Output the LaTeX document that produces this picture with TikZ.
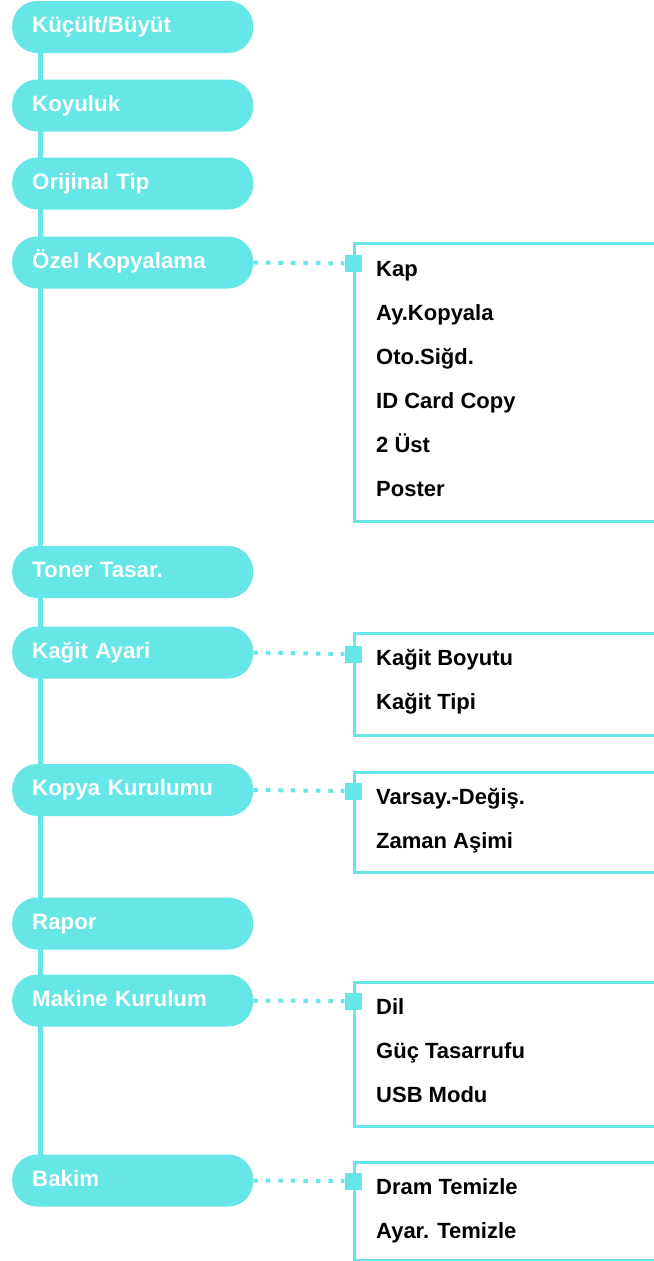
\documentclass[tikz,border=0pt]{standalone}
\usepackage{fontspec}
\setmainfont{Liberation Sans}
\newfontfamily\itemfont{Liberation Sans}
\definecolor{cy}{RGB}{102,230,230}
\begin{document}
\begin{tikzpicture}[x=1bp,y=-1bp,
  pill/.style={fill=cy, rounded corners=25bp, minimum width=241bp, minimum height=52bp,
    text width=201bp, align=left, inner xsep=20bp, inner ysep=0pt,
    text height=11bp, text depth=0bp, text=white,
    font=\bfseries\fontsize{22.3bp}{26bp}\selectfont, anchor=west},
  spine/.style={draw=cy, line width=5bp},
  marker/.style={fill=cy, minimum size=17bp, inner sep=0pt},
  dotline/.style={draw=cy, line width=4bp, dash pattern=on 4.5bp off 8bp},
  subbox/.style={draw=cy, line width=2.7bp, minimum width=320bp, anchor=north west, inner sep=0pt},
  itemtext/.style={anchor=base west, inner sep=0pt, text=black,
    font=\itemfont\bfseries\fontsize{22bp}{26bp}\selectfont}
]
\useasboundingbox (0,0) rectangle (654,1261);
\clip (0,0) rectangle (654,1261);

% spine
\coordinate (st) at (40,27);
\coordinate (sb) at (40,1180);
\draw[spine] (st) -- (sb);

% main menu pills
\node[pill] (p1) at (12,27) {Küçült/Büyüt};
\node[pill] (p2) at (12,105.5) {Koyuluk};
\node[pill] (p3) at (12,183.5) {Orijinal Tip};
\node[pill] (p4) at (12,262.5) {Özel Kopyalama};
\node[pill] (p5) at (12,572) {Toner Tasar.};
\node[pill] (p6) at (12,652.5) {Kağit Ayari};
\node[pill] (p7) at (12,790) {Kopya Kurulumu};
\node[pill] (p8) at (12,923.5) {Rapor};
\node[pill] (p9) at (12,1000.5) {Makine Kurulum};
\node[pill] (p10) at (12,1180.5) {Bakim};

% submenu 1
\node[subbox, minimum height=278bp] (b1) at (353,242) {};
\node[marker] (m1) at (353,263.5) {};
\draw[dotline] (p4.east) -- (m1.west);
\node[itemtext] (i11) at (376,276) {Kap};
\node[itemtext] (i12) at (376,320) {Ay.Kopyala};
\node[itemtext] (i13) at (376,364) {Oto.Siğd.};
\node[itemtext] (i14) at (376,408) {ID Card Copy};
\node[itemtext] (i15) at (376,452) {2 Üst};
\node[itemtext] (i16) at (376,496) {Poster};

% submenu 2
\node[subbox, minimum height=102bp] (b2) at (353,632) {};
\node[marker] (m2) at (353,654) {};
\draw[dotline] (p6.east) -- (m2.west);
\node[itemtext] (i21) at (376,665) {Kağit Boyutu};
\node[itemtext] (i22) at (376,709) {Kağit Tipi};

% submenu 3
\node[subbox, minimum height=100bp] (b3) at (353,771) {};
\node[marker] (m3) at (353,791) {};
\draw[dotline] (p7.east) -- (m3.west);
\node[itemtext] (i31) at (376,804) {Varsay.-Değiş.};
\node[itemtext] (i32) at (376,848) {Zaman Aşimi};

% submenu 4
\node[subbox, minimum height=144bp] (b4) at (353,981) {};
\node[marker] (m4) at (353,1001) {};
\draw[dotline] (p9.east) -- (m4.west);
\node[itemtext] (i41) at (376,1014) {Dil};
\node[itemtext] (i42) at (376,1058) {Güç Tasarrufu};
\node[itemtext] (i43) at (376,1102) {USB Modu};

% submenu 5
\node[subbox, minimum height=98bp] (b5) at (353,1161) {};
\node[marker] (m5) at (353,1181) {};
\draw[dotline] (p10.east) -- (m5.west);
\node[itemtext] (i51) at (376,1194) {Dram Temizle};
\node[itemtext] (i52) at (376,1238) {Ayar. Temizle};
\end{tikzpicture}
\end{document}
